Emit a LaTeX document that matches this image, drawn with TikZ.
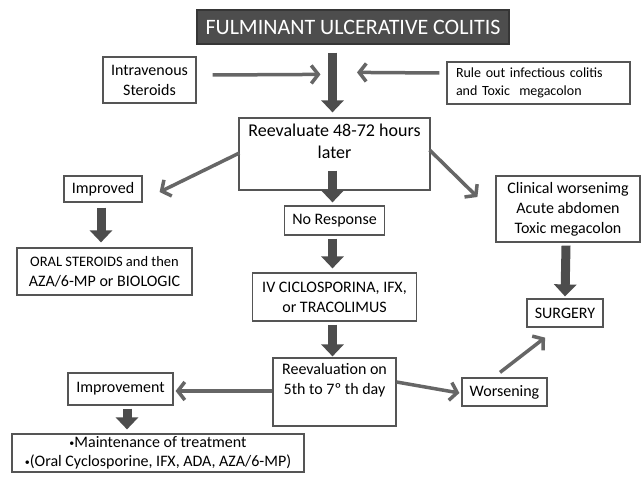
\documentclass[tikz,border=0pt]{standalone}
\usepackage{fontspec}
\setmainfont{Carlito}
\usetikzlibrary{arrows.meta, calc}

\definecolor{boxline}{HTML}{555555}
\definecolor{darkfill}{HTML}{4D4D4D}
\definecolor{arrowgray}{HTML}{666666}
\newcommand{\smallbul}{\raisebox{1.5pt}{\fontsize{10}{10}\selectfont•}}

\begin{document}
\begin{tikzpicture}[x=1pt, y=-1pt,
    box/.style={draw=boxline, line width=1.2pt, fill=white, inner sep=0pt, align=center,
        font=\fontsize{16}{20}\selectfont},
    boxtext/.style={anchor=north, inner sep=0pt, align=center},
    fatarrow/.style={darkfill, line width=9pt, -{Triangle[length=12pt, width=22pt]}},
    flow/.style={arrowgray, line width=3.5pt, -{Straight Barb[length=7pt, width=18pt]}}]
    \useasboundingbox (0,0) rectangle (644,484);

    % top row
    \node [box, fill=darkfill, draw=darkfill!70!black, text=white, minimum width=312pt,
        minimum height=34pt, font=\fontsize{22}{26}\selectfont] (title) at (353,27) {FULMINANT ULCERATIVE COLITIS};
    \node [box, minimum width=93pt, minimum height=46pt] (iv) at (149.5,80) {Intravenous\\Steroids};
    \node [box, text width=165pt, inner xsep=9pt, minimum height=42pt, align=left,
        font=\fontsize{14}{18}\selectfont] (rule) at (538.5,83) {Rule out infectious colitis\\and Toxic\ \ megacolon};
    \node [box, minimum width=191pt, minimum height=72pt] (reeval) at (334.5,154) {};
    \node [boxtext, font=\fontsize{18}{22}\selectfont] (reevaltext) at ($(reeval.north)+(0,6)$) {Reevaluate 48-72 hours\\later};

    % three branches
    \node [box, minimum width=78pt, minimum height=26pt] (improved) at (103,189) {Improved};
    \node [box, minimum width=175pt, minimum height=47pt] (oral) at (104.5,271.5)
        {{\fontsize{14.5}{17}\selectfont ORAL STEROIDS and then}\\AZA/6-MP or BIOLOGIC};
    \node [box, minimum width=100pt, minimum height=29pt] (noresp) at (334.5,220.5) {No Response};
    \node [box, minimum width=164pt, minimum height=48pt] (drugs) at (334.5,297) {IV CICLOSPORINA, IFX,\\or TRACOLIMUS};
    \node [box, minimum width=144pt, minimum height=66pt] (worse) at (568,209) {Clinical worsenimg\\Acute abdomen\\Toxic megacolon};
    \node [box, minimum width=76pt, minimum height=28pt] (surgery) at (565,313) {SURGERY};

    % second evaluation
    \node [box, minimum width=123pt, minimum height=68pt] (reeval2) at (334.5,392) {};
    \node [boxtext, font=\fontsize{16}{20}\selectfont] (reeval2text) at ($(reeval2.north)+(0,6)$) {Reevaluation on\\5th to 7º th day};
    \node [box, minimum width=105pt, minimum height=32pt] (improvement) at (120.5,389) {Improvement};
    \node [box, minimum width=85pt, minimum height=28pt] (worsening) at (504.5,392) {Worsening};
    \node [box, minimum width=292pt, minimum height=38pt, font=\fontsize{16}{19}\selectfont] (maint) at (158,453)
        {\smallbul Maintenance of treatment\\\smallbul(Oral Cyclosporine, IFX, ADA, AZA/6-MP)};

    % arrows
    \draw [fatarrow] ($(title.south -| reeval.north)+(-2,8)$) -- ($(reeval.north)+(-2,-5)$);
    \draw [flow] ($(iv.east)+(16,-5)$) -- ($(reeval.north)+(-14,-43)$);
    \draw [flow] ($(rule.west)+(-7,-10)$) -- ($(reeval.north)+(22.5,-45)$);
    \draw [fatarrow] ($(reeval.south)+(-2,-20)$) -- ($(noresp.north)+(-2,-3)$);
    \draw [flow] ($(reeval.west)+(1,-1)$) -- ($(improved.east)+(17,3)$);
    \draw [flow] ($(reeval.east)+(-1,-4)$) -- ($(worse.west)+(-18,-12)$);
    \draw [fatarrow] ($(improved.south)+(-2,5)$) -- ($(oral.north)+(-3.5,-5)$);
    \draw [fatarrow] ($(noresp.south)+(-2,3)$) -- ($(drugs.north)+(-2,-4)$);
    \draw [fatarrow] ($(worse.south)+(-2,3)$) -- ($(surgery.north)+(0,-2)$);
    \draw [fatarrow] ($(drugs.south)+(-2,3)$) -- ($(reeval2.north)+(-2,-1)$);
    \draw [flow] ($(reeval2.west)+(0,-1)$) -- ($(improvement.east)+(2,2)$);
    \draw [flow] ($(reeval2.east)+(0,-10)$) -- ($(worsening.west)+(-2,1)$);
    \draw [flow] ($(worsening.north)+(-4.5,-5)$) -- ($(surgery.south)+(-20,10)$);
    \draw [fatarrow] ($(improvement.south)+(6.5,3)$) -- ($(maint.north)+(-31,-4)$);
\end{tikzpicture}
\end{document}
